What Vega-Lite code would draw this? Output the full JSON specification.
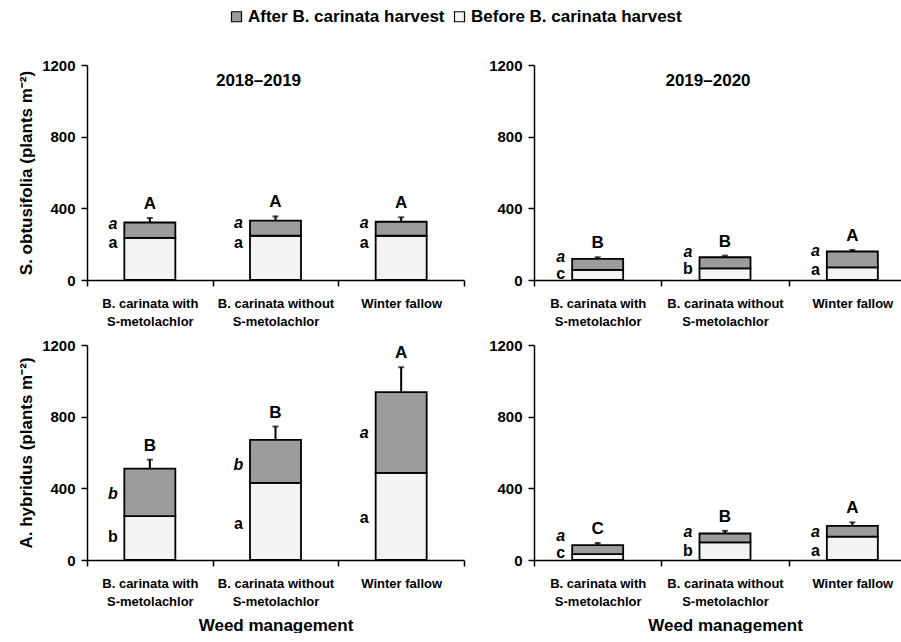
{
  "$schema": "https://vega.github.io/schema/vega-lite/v6.json",
  "background": "white",
  "padding": {"left": 17, "top": 8, "right": 0, "bottom": 0},
  "config": {
    "view": {"stroke": null},
    "font": "Liberation Sans",
    "axis": {"domainColor": "black", "domainWidth": 1.5, "tickColor": "black", "tickWidth": 1.5, "tickSize": 6, "labelColor": "black", "labelFont": "Liberation Sans", "labelFontWeight": "bold", "titleFont": "Liberation Sans", "titleFontWeight": "bold", "titleColor": "black", "grid": false},
    "legend": {"orient": "none", "legendX": 141, "legendY": -57, "direction": "horizontal", "title": null, "symbolType": "square", "symbolSize": 100, "symbolStrokeColor": "black", "symbolStrokeWidth": 1.2, "labelFontSize": 17, "labelFontWeight": "bold", "labelFont": "Liberation Sans", "labelColor": "black", "labelLimit": 0, "columnPadding": 6, "symbolOffset": 0, "labelOffset": 3},
    "title": {"font": "Liberation Sans", "fontWeight": "bold", "fontSize": 17, "color": "black"}
  },
  "data": {"values": [
    {"panel": "TL", "treat": "B. carinata with|S-metolachlor", "before": 235, "total": 321, "errTop": 346, "grp": "A", "bl": "a", "al": "a", "blY": 207, "alY": 313},
    {"panel": "TL", "treat": "B. carinata without|S-metolachlor", "before": 247, "total": 331, "errTop": 355, "grp": "A", "bl": "a", "al": "a", "blY": 209, "alY": 318},
    {"panel": "TL", "treat": "Winter fallow", "before": 247, "total": 325, "errTop": 350, "grp": "A", "bl": "a", "al": "a", "blY": 209, "alY": 318},
    {"panel": "TR", "treat": "B. carinata with|S-metolachlor", "before": 56, "total": 118, "errTop": 127, "grp": "B", "bl": "c", "al": "a", "blY": 34, "alY": 131},
    {"panel": "TR", "treat": "B. carinata without|S-metolachlor", "before": 65, "total": 127, "errTop": 136, "grp": "B", "bl": "b", "al": "a", "blY": 62, "alY": 155},
    {"panel": "TR", "treat": "Winter fallow", "before": 70, "total": 159, "errTop": 168, "grp": "A", "bl": "a", "al": "a", "blY": 56, "alY": 162},
    {"panel": "BL", "treat": "B. carinata with|S-metolachlor", "before": 245, "total": 510, "errTop": 560, "grp": "B", "bl": "b", "al": "b", "blY": 126, "alY": 370},
    {"panel": "BL", "treat": "B. carinata without|S-metolachlor", "before": 430, "total": 671, "errTop": 745, "grp": "B", "bl": "a", "al": "b", "blY": 199, "alY": 528},
    {"panel": "BL", "treat": "Winter fallow", "before": 486, "total": 937, "errTop": 1076, "grp": "A", "bl": "a", "al": "a", "blY": 237, "alY": 709},
    {"panel": "BR", "treat": "B. carinata with|S-metolachlor", "before": 33, "total": 83, "errTop": 95, "grp": "C", "bl": "c", "al": "a", "blY": 37, "alY": 133},
    {"panel": "BR", "treat": "B. carinata without|S-metolachlor", "before": 98, "total": 148, "errTop": 163, "grp": "B", "bl": "b", "al": "a", "blY": 52, "alY": 155},
    {"panel": "BR", "treat": "Winter fallow", "before": 130, "total": 191, "errTop": 210, "grp": "A", "bl": "a", "al": "a", "blY": 52, "alY": 155}
  ]},
  "spacing": 10,
  "vconcat": [
    {"spacing": 23, "hconcat": [
      {
        "width": 377, "height": 215,
        "transform": [{"filter": "datum.panel == 'TL'"}],
        "title": {"text": "2018\u20132019", "offset": -32, "dx": -17},
        "encoding": {"x": {"field": "treat", "type": "nominal", "sort": ["B. carinata with|S-metolachlor", "B. carinata without|S-metolachlor", "Winter fallow"], "scale": {"paddingInner": 0, "paddingOuter": 0}, "axis": {"title": null, "labelAngle": 0, "labelExpr": "split(datum.label, '|')", "labelFontSize": 13, "labelLineHeight": 18, "tickBand": "extent", "labelPadding": 11}}},
        "layer": [
          {"mark": {"type": "bar", "width": 51, "stroke": "black", "strokeWidth": 1.8}, "encoding": {"y": {"field": "before", "type": "quantitative", "scale": {"domain": [0, 1200]}, "axis": {"title": "S. obtusifolia (plants m\u207b\u00b2)", "titleFontSize": 17, "titlePadding": 6, "values": [0, 200, 400, 600, 800, 1000, 1200], "labelExpr": "datum.value % 400 == 0 ? datum.label : ''", "labelFontSize": 15, "labelPadding": 6, "format": "d"}}, "color": {"datum": "Before B. carinata harvest", "scale": {"domain": ["After B. carinata harvest", "Before B. carinata harvest"], "range": ["#9c9c9c", "#f3f3f3"]}}}},
          {"mark": {"type": "bar", "width": 51, "stroke": "black", "strokeWidth": 1.8}, "encoding": {"y": {"field": "total", "type": "quantitative"}, "y2": {"field": "before"}, "color": {"datum": "After B. carinata harvest"}}},
          {"mark": {"type": "rule", "strokeWidth": 2, "color": "black"}, "encoding": {"y": {"field": "total", "type": "quantitative"}, "y2": {"field": "errTop"}}},
          {"mark": {"type": "tick", "color": "black", "size": 6, "thickness": 2}, "encoding": {"y": {"field": "errTop", "type": "quantitative"}}},
          {"mark": {"type": "text", "baseline": "bottom", "dy": -5, "fontSize": 17, "fontWeight": "bold", "color": "black"}, "encoding": {"y": {"field": "errTop", "type": "quantitative"}, "text": {"field": "grp"}}},
          {"mark": {"type": "text", "baseline": "middle", "dx": -37, "fontSize": 16, "fontWeight": "bold", "fontStyle": "italic", "color": "black"}, "encoding": {"y": {"field": "alY", "type": "quantitative"}, "text": {"field": "al"}}},
          {"mark": {"type": "text", "baseline": "middle", "dx": -37, "fontSize": 16, "fontWeight": "bold", "color": "black"}, "encoding": {"y": {"field": "blY", "type": "quantitative"}, "text": {"field": "bl"}}}
        ]
      },
      {
        "width": 382, "height": 215,
        "transform": [{"filter": "datum.panel == 'TR'"}],
        "title": {"text": "2019\u20132020", "offset": -32, "dx": -17},
        "encoding": {"x": {"field": "treat", "type": "nominal", "sort": ["B. carinata with|S-metolachlor", "B. carinata without|S-metolachlor", "Winter fallow"], "scale": {"paddingInner": 0, "paddingOuter": 0}, "axis": {"title": null, "labelAngle": 0, "labelExpr": "split(datum.label, '|')", "labelFontSize": 13, "labelLineHeight": 18, "tickBand": "extent", "labelPadding": 11}}},
        "layer": [
          {"mark": {"type": "bar", "width": 51, "stroke": "black", "strokeWidth": 1.8}, "encoding": {"y": {"field": "before", "type": "quantitative", "scale": {"domain": [0, 1200]}, "axis": {"title": null, "values": [0, 200, 400, 600, 800, 1000, 1200], "labelExpr": "datum.value % 400 == 0 ? datum.label : ''", "labelFontSize": 15, "labelPadding": 6, "format": "d"}}, "color": {"datum": "Before B. carinata harvest"}}},
          {"mark": {"type": "bar", "width": 51, "stroke": "black", "strokeWidth": 1.8}, "encoding": {"y": {"field": "total", "type": "quantitative"}, "y2": {"field": "before"}, "color": {"datum": "After B. carinata harvest"}}},
          {"mark": {"type": "rule", "strokeWidth": 2, "color": "black"}, "encoding": {"y": {"field": "total", "type": "quantitative"}, "y2": {"field": "errTop"}}},
          {"mark": {"type": "tick", "color": "black", "size": 6, "thickness": 2}, "encoding": {"y": {"field": "errTop", "type": "quantitative"}}},
          {"mark": {"type": "text", "baseline": "bottom", "dy": -5, "fontSize": 17, "fontWeight": "bold", "color": "black"}, "encoding": {"y": {"field": "errTop", "type": "quantitative"}, "text": {"field": "grp"}}},
          {"mark": {"type": "text", "baseline": "middle", "dx": -37, "fontSize": 16, "fontWeight": "bold", "fontStyle": "italic", "color": "black"}, "encoding": {"y": {"field": "alY", "type": "quantitative"}, "text": {"field": "al"}}},
          {"mark": {"type": "text", "baseline": "middle", "dx": -37, "fontSize": 16, "fontWeight": "bold", "color": "black"}, "encoding": {"y": {"field": "blY", "type": "quantitative"}, "text": {"field": "bl"}}}
        ]
      }
    ]},
    {"spacing": 23, "hconcat": [
      {
        "width": 377, "height": 215,
        "transform": [{"filter": "datum.panel == 'BL'"}],
        "encoding": {"x": {"field": "treat", "type": "nominal", "sort": ["B. carinata with|S-metolachlor", "B. carinata without|S-metolachlor", "Winter fallow"], "scale": {"paddingInner": 0, "paddingOuter": 0}, "axis": {"title": "Weed management", "titleFontSize": 17, "titlePadding": 9, "labelAngle": 0, "labelExpr": "split(datum.label, '|')", "labelFontSize": 13, "labelLineHeight": 18, "tickBand": "extent", "labelPadding": 11}}},
        "layer": [
          {"mark": {"type": "bar", "width": 51, "stroke": "black", "strokeWidth": 1.8}, "encoding": {"y": {"field": "before", "type": "quantitative", "scale": {"domain": [0, 1200]}, "axis": {"title": "A. hybridus (plants m\u207b\u00b2)", "titleFontSize": 17, "titlePadding": 6, "values": [0, 200, 400, 600, 800, 1000, 1200], "labelExpr": "datum.value % 400 == 0 ? datum.label : ''", "labelFontSize": 15, "labelPadding": 6, "format": "d"}}, "color": {"datum": "Before B. carinata harvest"}}},
          {"mark": {"type": "bar", "width": 51, "stroke": "black", "strokeWidth": 1.8}, "encoding": {"y": {"field": "total", "type": "quantitative"}, "y2": {"field": "before"}, "color": {"datum": "After B. carinata harvest"}}},
          {"mark": {"type": "rule", "strokeWidth": 2, "color": "black"}, "encoding": {"y": {"field": "total", "type": "quantitative"}, "y2": {"field": "errTop"}}},
          {"mark": {"type": "tick", "color": "black", "size": 6, "thickness": 2}, "encoding": {"y": {"field": "errTop", "type": "quantitative"}}},
          {"mark": {"type": "text", "baseline": "bottom", "dy": -5, "fontSize": 17, "fontWeight": "bold", "color": "black"}, "encoding": {"y": {"field": "errTop", "type": "quantitative"}, "text": {"field": "grp"}}},
          {"mark": {"type": "text", "baseline": "middle", "dx": -37, "fontSize": 16, "fontWeight": "bold", "fontStyle": "italic", "color": "black"}, "encoding": {"y": {"field": "alY", "type": "quantitative"}, "text": {"field": "al"}}},
          {"mark": {"type": "text", "baseline": "middle", "dx": -37, "fontSize": 16, "fontWeight": "bold", "color": "black"}, "encoding": {"y": {"field": "blY", "type": "quantitative"}, "text": {"field": "bl"}}}
        ]
      },
      {
        "width": 382, "height": 215,
        "transform": [{"filter": "datum.panel == 'BR'"}],
        "encoding": {"x": {"field": "treat", "type": "nominal", "sort": ["B. carinata with|S-metolachlor", "B. carinata without|S-metolachlor", "Winter fallow"], "scale": {"paddingInner": 0, "paddingOuter": 0}, "axis": {"title": "Weed management", "titleFontSize": 17, "titlePadding": 9, "labelAngle": 0, "labelExpr": "split(datum.label, '|')", "labelFontSize": 13, "labelLineHeight": 18, "tickBand": "extent", "labelPadding": 11}}},
        "layer": [
          {"mark": {"type": "bar", "width": 51, "stroke": "black", "strokeWidth": 1.8}, "encoding": {"y": {"field": "before", "type": "quantitative", "scale": {"domain": [0, 1200]}, "axis": {"title": null, "values": [0, 200, 400, 600, 800, 1000, 1200], "labelExpr": "datum.value % 400 == 0 ? datum.label : ''", "labelFontSize": 15, "labelPadding": 6, "format": "d"}}, "color": {"datum": "Before B. carinata harvest"}}},
          {"mark": {"type": "bar", "width": 51, "stroke": "black", "strokeWidth": 1.8}, "encoding": {"y": {"field": "total", "type": "quantitative"}, "y2": {"field": "before"}, "color": {"datum": "After B. carinata harvest"}}},
          {"mark": {"type": "rule", "strokeWidth": 2, "color": "black"}, "encoding": {"y": {"field": "total", "type": "quantitative"}, "y2": {"field": "errTop"}}},
          {"mark": {"type": "tick", "color": "black", "size": 6, "thickness": 2}, "encoding": {"y": {"field": "errTop", "type": "quantitative"}}},
          {"mark": {"type": "text", "baseline": "bottom", "dy": -5, "fontSize": 17, "fontWeight": "bold", "color": "black"}, "encoding": {"y": {"field": "errTop", "type": "quantitative"}, "text": {"field": "grp"}}},
          {"mark": {"type": "text", "baseline": "middle", "dx": -37, "fontSize": 16, "fontWeight": "bold", "fontStyle": "italic", "color": "black"}, "encoding": {"y": {"field": "alY", "type": "quantitative"}, "text": {"field": "al"}}},
          {"mark": {"type": "text", "baseline": "middle", "dx": -37, "fontSize": 16, "fontWeight": "bold", "color": "black"}, "encoding": {"y": {"field": "blY", "type": "quantitative"}, "text": {"field": "bl"}}}
        ]
      }
    ]}
  ]
}
